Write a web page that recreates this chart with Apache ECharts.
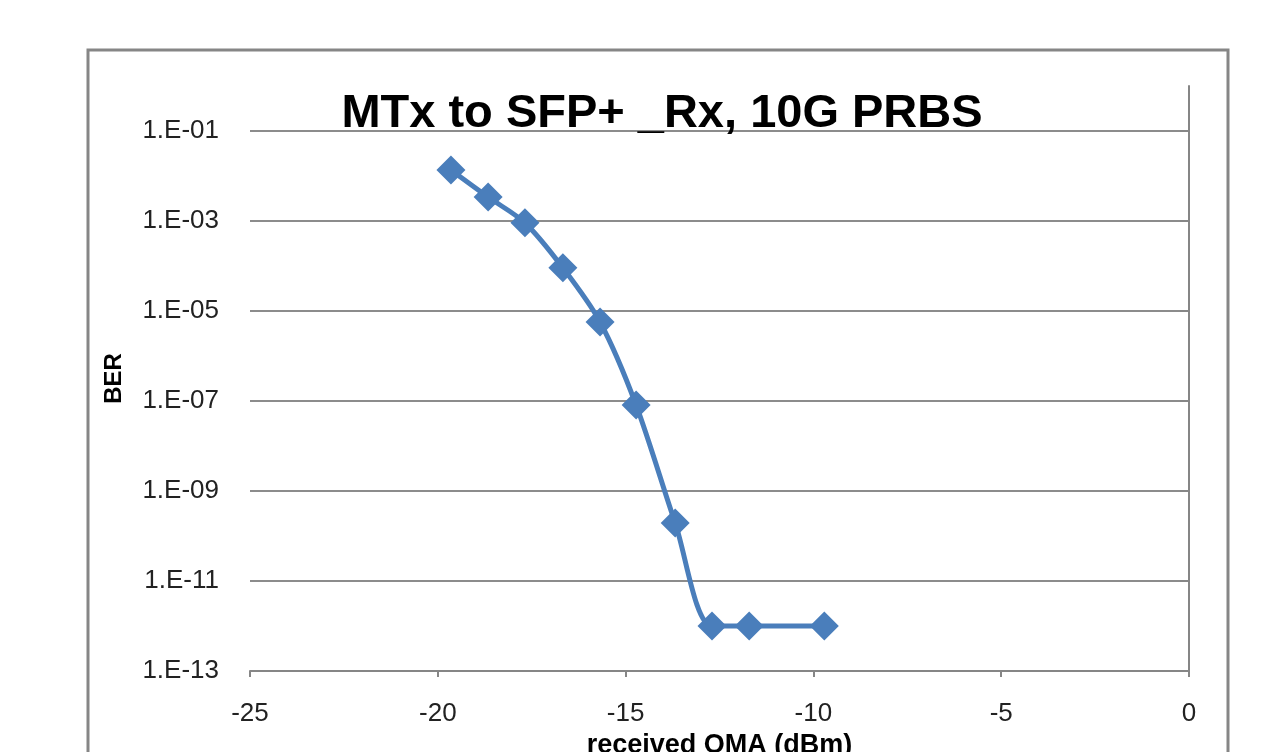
<!DOCTYPE html>
<html>
<head>
<meta charset="utf-8">
<script src="https://cdn.jsdelivr.net/npm/echarts@6/dist/echarts.min.js"></script>
<style>
html,body{margin:0;padding:0;background:#fff;overflow:hidden;}
#c{width:1270px;height:752px;}
</style>
</head>
<body>
<div id="c"></div>
<script>
const titleText = 'MTx to SFP+ _Rx, 10G PRBS';
const xAxisName = 'received OMA (dBm)';
const yAxisName = 'BER';
const omaValues = [-19.65, -18.66, -17.68, -16.67, -15.68, -14.72, -13.68, -12.70, -11.71, -9.71];
const berValues = [1.36e-2, 3.4e-3, 9.1e-4, 9.1e-5, 5.7e-6, 8.1e-8, 1.95e-10, 1.0e-12, 1.0e-12, 1.0e-12];

const seriesData = omaValues.map((x, i) => [x, berValues[i]]);

function fmtBer(v) {
  const e = Math.round(Math.log10(v));
  const sign = e < 0 ? '-' : '+';
  const a = Math.abs(e);
  return '1.E' + sign + (a < 10 ? '0' + a : '' + a);
}

const chart = echarts.init(document.getElementById('c'), null, {renderer: 'canvas', width: 1270, height: 752});
const font = '"Liberation Sans", Arial, sans-serif';
chart.setOption({
  animation: false,
  backgroundColor: '#ffffff',
  title: {
    text: titleText,
    left: 657,
    textAlign: 'center',
    top: 86,
    textStyle: {fontFamily: font, fontWeight: 'bold', fontSize: 47, color: '#000'}
  },
  grid: {left: 250, width: 939, top: 86, height: 585, containLabel: false, outerBoundsMode: 'none'},
  xAxis: {
    type: 'value',
    min: -25, max: 0, interval: 5,
    name: xAxisName,
    nameLocation: 'middle',
    nameGap: 55,
    nameTextStyle: {fontFamily: font, fontWeight: 'bold', fontSize: 27, color: '#000'},
    axisLine: {show: true, onZero: false, lineStyle: {color: '#868686', width: 2}},
    axisTick: {show: true, inside: false, length: 6, lineStyle: {color: '#868686', width: 2}},
    axisLabel: {fontFamily: font, fontSize: 26, color: '#222', margin: 30},
    splitLine: {show: false}
  },
  yAxis: {
    type: 'log',
    logBase: 10,
    min: 1e-13, max: 1, interval: 2,
    name: yAxisName,
    nameLocation: 'middle',
    nameGap: 124,
    nameTextStyle: {fontFamily: font, fontWeight: 'bold', fontSize: 24, color: '#000'},
    axisLine: {show: true, lineStyle: {color: '#868686', width: 2}},
    axisTick: {show: true, inside: false, length: 9, lineStyle: {color: '#868686', width: 2}},
    axisLabel: {
      fontFamily: font, fontSize: 26, color: '#222', margin: 31,
      showMaxLabel: false,
      formatter: function (v) { return v >= 0.5 ? '' : fmtBer(v); }
    },
    splitLine: {show: true, lineStyle: {color: ['#8c8c8c','#8c8c8c','#8c8c8c','#8c8c8c','#8c8c8c','#8c8c8c','#8c8c8c','rgba(0,0,0,0)'], width: 2}}
  },
  graphic: [{
    type: 'rect',
    shape: {x: 88, y: 50, width: 1140, height: 760},
    style: {fill: 'none', stroke: '#868686', lineWidth: 3},
    silent: true
  }],
  series: [{
    type: 'line',
    data: seriesData,
    smooth: 0.3,
    symbol: 'diamond',
    symbolSize: 29,
    itemStyle: {color: '#4a7ebb'},
    lineStyle: {color: '#4a7ebb', width: 5}
  }]
});
</script>
</body>
</html>
